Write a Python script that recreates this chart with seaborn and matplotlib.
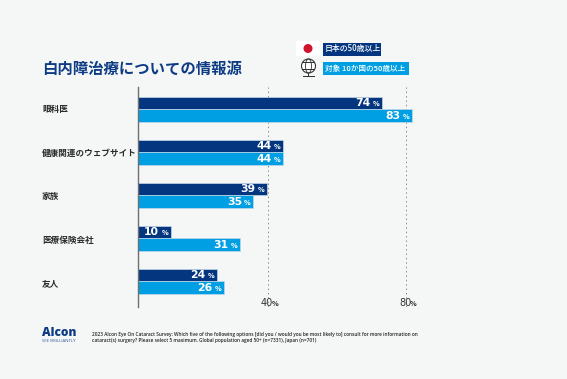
import pandas as pd
import matplotlib
matplotlib.use("Agg")
import matplotlib.pyplot as plt
from matplotlib.patches import Rectangle, Ellipse
import seaborn as sns

categories = ["眼科医", "健康関連のウェブサイト", "家族", "医療保険会社", "友人"]
japan_values = [74, 44, 39, 10, 24]
global_values = [83, 44, 35, 31, 26]
series_names = ["日本の50歳以上", "対象 10か国の50歳以上"]
tick_labels = ["40", "80"]
# gridlines in the original sit slightly off the bar scale
tick_positions = [39.3, 81.1]

title = "白内障治療についての情報源"
footnote = ("2023 Alcon Eye On Cataract Survey: Which five of the following options [did you / would you be most likely to] consult for more information on\n"
            "cataract(s) surgery? Please select 5 maximum. Global population aged 50+ (n=7331), Japan (n=701)")

W, H = 567, 379
BG = "#f5f7f7"
DARK = "#04357f"
LIGHT = "#009fe3"

sns.set_theme(style="white")
plt.rcParams["font.family"] = ["Noto Sans CJK JP", "DejaVu Sans"]

df = pd.DataFrame({
    "category": categories * 2,
    "value": japan_values + global_values,
    "series": [series_names[0]] * 5 + [series_names[1]] * 5,
})

fig = plt.figure(figsize=(W / 100, H / 100), dpi=100, facecolor=BG)
ax = fig.add_axes([137.5 / W, 1 - 306.5 / H, (420 - 137.5) / W, (306.5 - 87) / H])
ax.set_facecolor("none")

sns.barplot(data=df, y="category", x="value", hue="series", order=categories,
            hue_order=series_names, palette=[DARK, LIGHT], width=0.59, gap=0,
            saturation=1, legend=False, ax=ax, zorder=2, edgecolor="#c5d6e6", linewidth=0.5)

ax.set_xlim(0, 85.4)
ax.set_ylim(4.586, -0.519)
ax.set_xlabel("")
ax.set_ylabel("")

for pos in tick_positions:
    ax.axvline(pos, color="#8a8a8a", lw=0.7, ls=(0, (1.5, 3)), zorder=1)

# value labels: big number plus small % sign
for container in ax.containers:
    for bar in container:
        val = bar.get_width()
        yc = bar.get_y() + bar.get_height() / 2
        ax.annotate(f"{val:.0f}", (val, yc), xytext=(-8.2, -0.3), textcoords="offset points",
                    ha="right", va="center", color="white", fontsize=7.8, fontweight="bold",
                    family="DejaVu Sans", zorder=3)
        ax.annotate("%", (val, yc), xytext=(-1.8, -1), textcoords="offset points",
                    ha="right", va="center", color="white", fontsize=4.8, fontweight="bold",
                    family="DejaVu Sans", zorder=3)

sns.despine(ax=ax, top=True, right=True, bottom=True, left=False)
ax.spines["left"].set_color("#6f6f6f")
ax.spines["left"].set_linewidth(1)
ax.set_xticks([])
ax.set_yticks([])

# axis labels
for pos, lab in zip(tick_positions, tick_labels):
    px = 137.5 + pos * (420 - 137.5) / 85.4
    fig.text((px - 0.5) / W, 1 - 303.5 / H, lab, ha="center", va="center", fontsize=7,
             color="#333333", family="DejaVu Sans")
    fig.text((px + 7.5) / W, 1 - 304 / H, "%", ha="center", va="center", fontsize=4.8,
             color="#333333", fontweight="bold", family="DejaVu Sans")

# category labels
for i, cat in enumerate(categories):
    fig.text(42 / W, 1 - (109.5 + 43.6 * i) / H, cat, ha="left", va="center",
             fontsize=6.2, fontweight="bold", color="#2b2b2b")

fig.text(42 / W, 1 - 69 / H, title, ha="left", va="center", fontsize=11.1,
         fontweight="bold", color="#0d3c85")


def px_rect(x0, y0, x1, y1, **kw):
    fig.add_artist(Rectangle((x0 / W, 1 - y1 / H), (x1 - x0) / W, (y1 - y0) / H,
                             transform=fig.transFigure, **kw))


# legend
px_rect(296, 41, 320, 56, fc="white", ec="none")
fig.add_artist(Ellipse((308 / W, 1 - 48.5 / H), 9 / W, 9 / H, transform=fig.transFigure,
                       fc="#d0142c", ec="none"))
px_rect(322.5, 42.5, 381, 56, fc=DARK, ec="none")
fig.text(324.5 / W, 1 - 49 / H, series_names[0], ha="left", va="center", fontsize=5.7,
         color="white", fontweight="medium")
px_rect(323, 62, 409, 75, fc=LIGHT, ec="none")
fig.text(325 / W, 1 - 69 / H, series_names[1], ha="left", va="center", fontsize=5.5,
         color="white", fontweight="medium")

# globe icon
gx, gy = 308.5, 66
fig.add_artist(Ellipse((gx / W, 1 - gy / H), 14 / W, 14 / H, transform=fig.transFigure,
                       fc="white", ec="#333333", lw=0.8))
fig.add_artist(Ellipse((gx / W, 1 - gy / H), 6 / W, 14 / H, transform=fig.transFigure,
                       fc="none", ec="#333333", lw=0.6))
px_rect(gx - 7, gy - 0.3, gx + 7, gy + 0.3, fc="#333333", ec="none")
px_rect(gx - 6, gy - 3.8, gx + 6, gy - 3.3, fc="#333333", ec="none")
px_rect(gx - 6, gy + 3.3, gx + 6, gy + 3.8, fc="#333333", ec="none")
px_rect(gx - 0.7, gy + 7, gx + 0.7, gy + 9.5, fc="#333333", ec="none")
px_rect(gx - 6, gy + 9.5, gx + 6, gy + 11, fc="#333333", ec="none")

# logo and footnote
fig.text(42 / W, 1 - 333 / H, "Alcon", ha="left", va="center", fontsize=8.6, fontweight="heavy",
         color="#0d3c85", family="Open Sans")
fig.text(42 / W, 1 - 341.5 / H, "SEE BRILLIANTLY", ha="left", va="center", fontsize=3.2,
         color="#3a5f9a", family="Open Sans")
fig.text(92.5 / W, 1 - 337.5 / H, footnote, ha="left", va="center", fontsize=3.45,
         color="#222222", linespacing=1.4, family="Open Sans", fontweight="semibold")

fig.savefig("out.png", dpi=100, facecolor=BG)
